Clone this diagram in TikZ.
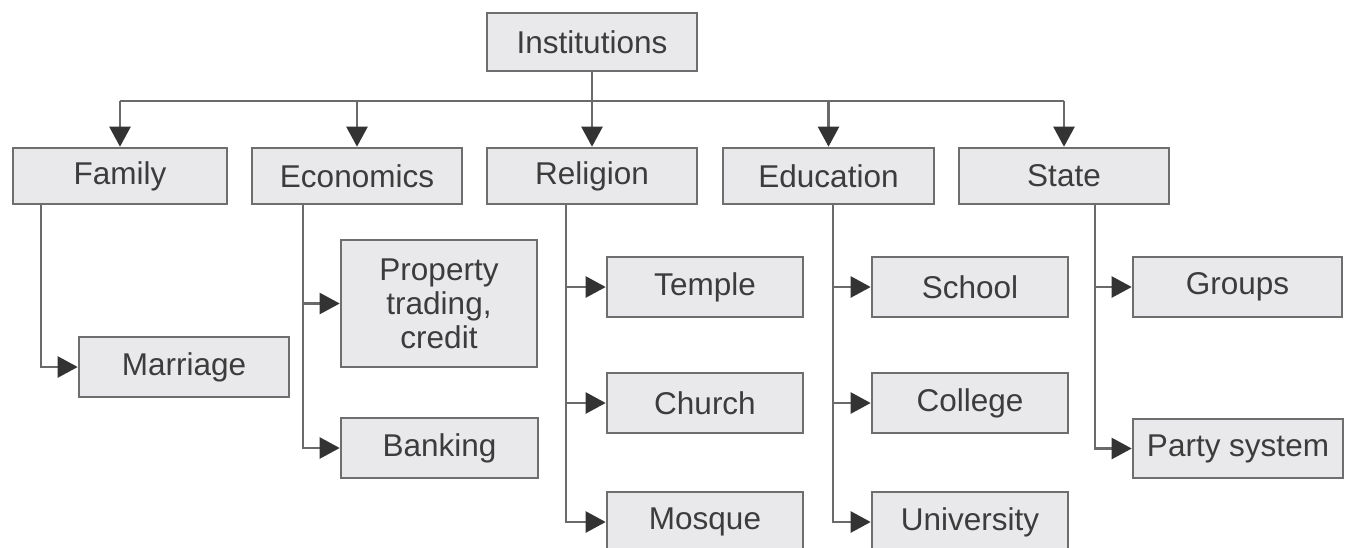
\documentclass[tikz,border=0pt]{standalone}
\usepackage{fontspec}
\setmainfont{Liberation Sans}
\usetikzlibrary{arrows.meta}
\definecolor{boxfill}{HTML}{E9E9EB}
\definecolor{boxline}{HTML}{6E6E6E}
\definecolor{conncol}{HTML}{6A6A6A}
\definecolor{txtcol}{HTML}{3C3C3C}
\definecolor{tipcol}{HTML}{333333}
\tikzset{
  box/.style={draw=boxline, fill=boxfill, line width=2.6pt, inner sep=0pt,
    text=txtcol, font=\fontsize{31.5}{34}\selectfont, align=center},
  conn/.style={draw=conncol, line width=2.4pt},
  arr/.style={conn, -{Triangle[length=20pt,width=21pt,fill=tipcol,color=tipcol]}},
}
\begin{document}
\begin{tikzpicture}[x=1pt,y=-1pt]
\useasboundingbox (0,0) rectangle (1349,547);
\clip (0,0) rectangle (1349,547);
\fill[white] (0,0) rectangle (1349,547);

% top
\node[box, minimum width=210, minimum height=58] (inst) at (592,42) {Institutions};
% row 2
\node[box, minimum width=214, minimum height=56] (fam) at (120,176) {Family};
\node[box, minimum width=210, minimum height=56] (eco) at (357,176) {Economics};
\node[box, minimum width=210, minimum height=56] (rel) at (592,176) {Religion};
\node[box, minimum width=211, minimum height=56] (edu) at (828.5,176) {Education};
\node[box, minimum width=210, minimum height=56] (st) at (1064,176) {State};
% leaves
\node[box, minimum width=210, minimum height=60] (mar) at (184,367) {Marriage};
\node[box, minimum width=196, minimum height=127] (prop) at (439,303.5) {Property\\trading,\\credit};
\node[box, minimum width=197, minimum height=60] (ban) at (439.5,448) {Banking};
\node[box, minimum width=196, minimum height=60] (tem) at (705,287) {Temple};
\node[box, minimum width=196, minimum height=60] (chu) at (705,403) {Church};
\node[box, minimum width=196, minimum height=60] (mos) at (705,522) {Mosque};
\node[box, minimum width=196, minimum height=60] (sch) at (970,287) {School};
\node[box, minimum width=196, minimum height=60] (col) at (970,403) {College};
\node[box, minimum width=196, minimum height=60] (uni) at (970,522) {University};
\node[box, minimum width=209, minimum height=60] (grp) at (1237.5,287) {Groups};
\node[box, minimum width=210, minimum height=59] (par) at (1238,448.5) {Party system};

% trunk coordinates
\coordinate (hl) at (0,101);
\coordinate (fx) at (41,0);
\coordinate (ex) at (303,0);
\coordinate (rx) at (566,0);
\coordinate (dx) at (833,0);
\coordinate (sx) at (1095,0);

% top level connectors
\draw[conn] (inst.south) -- (inst.south |- hl);
\draw[conn] (fam.north |- hl) -- (st.north |- hl);
\foreach \n in {fam,eco,rel,edu,st}{
  \draw[arr] (\n.north |- hl) -- (\n.north);
}

% family
\draw[arr] (fam.south -| fx) |- (mar.west);
% economics
\draw[arr] (eco.south -| ex) |- (ban.west);
\draw[arr] (ex |- prop.west) -- (prop.west);
% religion
\draw[arr] (rel.south -| rx) |- (mos.west);
\draw[arr] (rx |- tem.west) -- (tem.west);
\draw[arr] (rx |- chu.west) -- (chu.west);
% education
\draw[arr] (edu.south -| dx) |- (uni.west);
\draw[arr] (dx |- sch.west) -- (sch.west);
\draw[arr] (dx |- col.west) -- (col.west);
% state
\draw[arr] (st.south -| sx) |- (par.west);
\draw[arr] (sx |- grp.west) -- (grp.west);
\end{tikzpicture}
\end{document}
